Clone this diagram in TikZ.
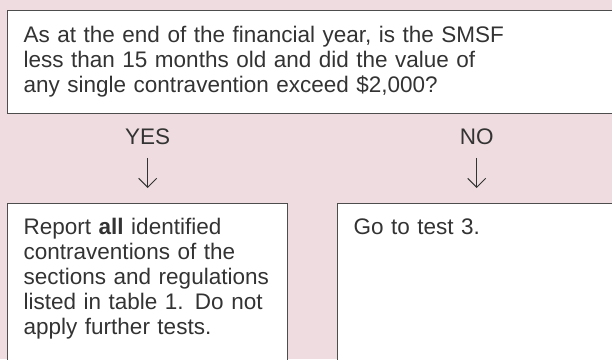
\documentclass[tikz,border=0pt]{standalone}
\usepackage{fontspec}
\setmainfont{Liberation Sans}
\usetikzlibrary{positioning, arrows.meta}

\definecolor{bgpink}{RGB}{239,220,224}
\definecolor{framegray}{RGB}{77,77,77}
\definecolor{inkgray}{RGB}{51,51,51}

\begin{document}
\begin{tikzpicture}[x=1pt, y=1pt,
    box/.style={draw=framegray, line width=1.4pt, fill=white, anchor=north west,
        inner xsep=16pt, inner ysep=0pt, align=left, text=inkgray,
        font=\fontsize{22.5}{25}\selectfont},
    answer/.style={inner sep=0pt, text depth=0pt, text=inkgray,
        font=\fontsize{22.5}{25}\selectfont},
    down/.style={-{Straight Barb[length=9pt, width=18pt]}, line width=1pt,
        draw=inkgray, shorten <=13pt, shorten >=15pt}]
    % Background, page size
    \fill[bgpink] (0,0) rectangle (612,359);
    \clip (0,0) rectangle (612,359);

    % Question box across the top
    \node[box, text width=581pt, text height=32pt, text depth=71pt] (question) at (7,349)
        {As at the end of the financial year, is the SMSF\\
         less than 15 months old and did the value of\\
         any single contravention exceed \$2,000?};

    % Outcome boxes
    \node[box, text width=248pt, text height=31pt, text depth=140pt] (report) at (7,156)
        {Report \textbf{all} identified\\
         contraventions of the\\
         sections and regulations\\
         listed in table 1. Do not\\
         apply further tests.};
    \node[box, text width=246pt, text height=31pt, text depth=140pt] (test3) at (337,156)
        {Go to test 3.};

    % Answers
    \node[answer, above=58pt of report] (yes) {YES};
    \node[answer, above=58pt of test3] (no) {NO};

    % Arrows
    \draw[down] (yes) -- (report);
    \draw[down] (no) -- (test3);
\end{tikzpicture}
\end{document}
